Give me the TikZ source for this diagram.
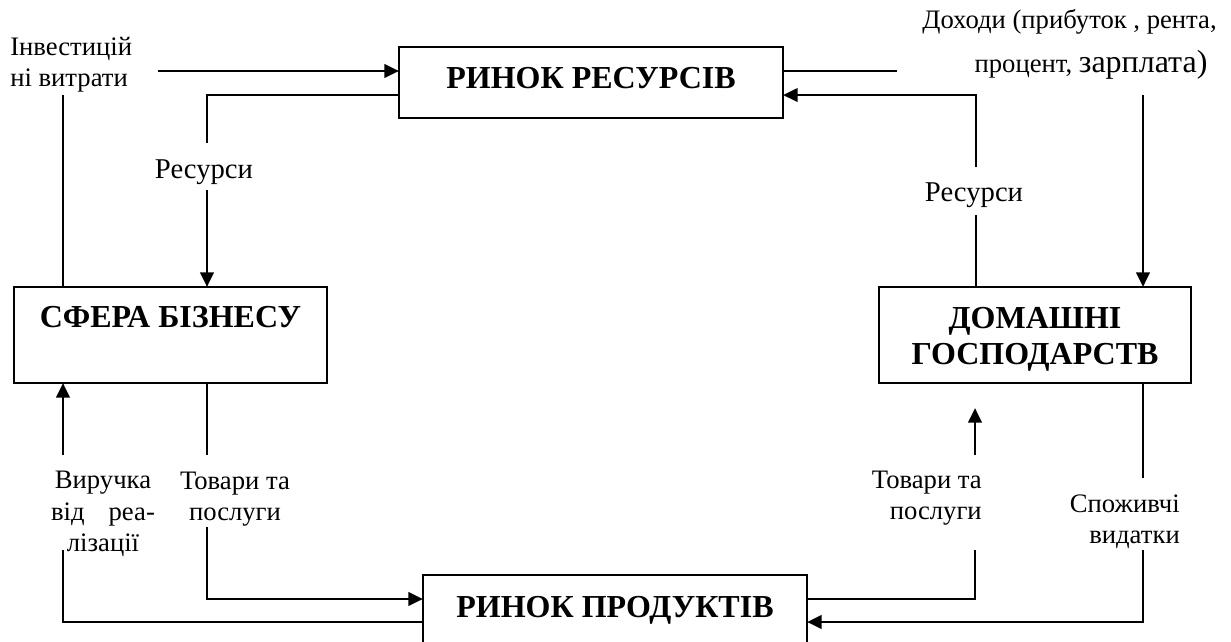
\documentclass[tikz,border=0pt]{standalone}
\usepackage{fontspec}
\IfFontExistsTF{LiberationSerif-Regular.ttf}
  {\setmainfont{LiberationSerif}[Extension=.ttf, UprightFont=*-Regular, BoldFont=*-Bold, ItalicFont=*-Italic]}
  {\setmainfont{Liberation Serif}}
\usetikzlibrary{arrows.meta}

\tikzset{
  box/.style={draw, line width=1.8pt, outer sep=0pt, inner sep=0pt, align=center,
    font=\fontsize{24}{27}\selectfont\bfseries},
  lbl/.style={inner sep=0pt, font=\fontsize{20}{23.5}\selectfont},
  ln/.style={line width=1.5pt},
  arr/.style={line width=2.2pt, -{Triangle[length=11pt,width=10pt]}}
}

\begin{document}
\begin{tikzpicture}[x=0.75pt,y=0.75pt,yscale=-1]
\useasboundingbox (0,0) rectangle (1231,642);

% Boxes
\node [box, minimum width=288pt, minimum height=53.25pt, text depth=7.5pt] (rr) at (591,82.5) {РИНОК РЕСУРСІВ};
\node [box, minimum width=234.75pt, minimum height=72pt] (sb) at (170.5,335) {СФЕРА БІЗНЕСУ\\\mbox{}};
\node [box, minimum width=234pt, minimum height=72pt] (dg) at (1035,335) {\rule{0pt}{22pt}ДОМАШНІ\\ГОСПОДАРСТВ};
\node [box, minimum width=288pt, minimum height=52.5pt] (pr) at (615,610) {РИНОК ПРОДУКТІВ};

% Text Nodes
\node [lbl, align=left, anchor=west] (inv) at (10,65) {Інвестицій\\ні витрати};
\node [lbl, font=\fontsize{21.5}{24}\selectfont] (resL) at (204,172) {Ресурси};
\node [lbl, font=\fontsize{21.5}{24}\selectfont] (resR) at (974,195) {Ресурси};
\node [lbl, align=right, anchor=north east] (inc) at (1217,9) {Доходи (прибуток , рента,\\[9.5pt]процент, {\fontsize{24}{26}\selectfont зарплата)}\hspace*{7pt}};
\node [lbl, align=center] (vir) at (103,514) {Виручка\\від\hspace{0.9em}реа-\\лізації};
\node [lbl, align=center] (tovL) at (235,499) {Товари та\\послуги};
\node [lbl, align=right, anchor=east] (tovR) at (982,498) {Товари та\\послуги};
\node [lbl, align=right, anchor=east] (sp) at (1180,522) {Споживчі\\видатки};

% Free ends
\coordinate (invS) at (63,95);
\coordinate (invE) at (158,71);
\coordinate (resLN) at (207,143);
\coordinate (resLS) at (207,190);
\coordinate (incW) at (897,71);
\coordinate (incS) at (1143,95);
\coordinate (resRN) at (976,167);
\coordinate (resRS) at (976,215);
\coordinate (tovLN) at (207,455);
\coordinate (tovLS) at (207,527);
\coordinate (virN) at (63,455);
\coordinate (virS) at (63,550);
\coordinate (tovRS) at (975,550);
\coordinate (tovRN) at (975,455);
\coordinate (tovRT) at (975,408);
\coordinate (spN) at (1143,478);
\coordinate (spS) at (1143,550);

% Resource market loop (yshift is flipped by yscale=-1)
\draw [ln] (invS |- sb.north) -- (invS);
\draw [arr] (invE) -- (invE -| rr.west);
\draw [ln] ([yshift=9.4pt]rr.west) -| (resLN);
\draw [arr] (resLS) -- (resLS |- sb.north);
\draw [ln] (incW -| rr.east) -- (incW);
\draw [arr] (incS) -- (incS |- dg.north);
\draw [ln] (resRS |- dg.north) -- (resRS);
\draw [arr] (resRN) |- ([yshift=9.4pt]rr.east);

% Product market loop
\draw [ln] (tovLN |- sb.south) -- (tovLN);
\draw [arr] (tovLS) |- ([yshift=-8.25pt]pr.west);
\draw [arr] (virN) -- (virN |- sb.south);
\draw [ln] ([yshift=9pt]pr.west) -| (virS);
\draw [ln] ([yshift=-8.25pt]pr.east) -| (tovRS);
\draw [arr] (tovRN) -- (tovRT);
\draw [ln] (spN |- dg.south) -- (spN);
\draw [arr] (spS) |- ([yshift=9pt]pr.east);

\end{tikzpicture}
\end{document}
